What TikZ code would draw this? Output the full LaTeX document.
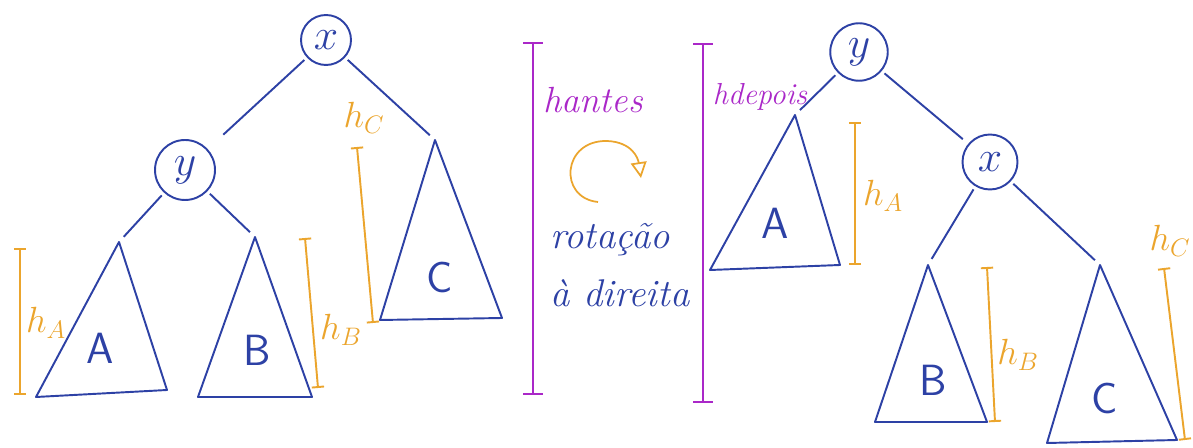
\documentclass[tikz,border=0pt]{standalone}
\usepackage{fontspec}
\usetikzlibrary{arrows.meta}
\definecolor{penblue}{RGB}{45,65,165}
\definecolor{penorange}{RGB}{235,165,45}
\definecolor{penpurple}{RGB}{170,40,200}

\begin{document}
\begin{tikzpicture}[
    x=0.02cm, y=-0.02cm,
    keynode/.style={draw=penblue, circle, line width=1.1pt, text=penblue, font=\Huge, inner sep=0pt},
    edge/.style={draw=penblue, line width=1.1pt, shorten <=2pt, shorten >=4pt},
    subtree/.style={draw=penblue, line width=1.1pt, line join=round},
    treelabel/.style={text=penblue, font=\Huge\sffamily},
    height/.style={draw=penorange, line width=1.1pt, {Bar[width=7pt]}-{Bar[width=7pt]}},
    hlabel/.style={text=penorange, font=\huge},
    total/.style={draw=penpurple, line width=1.1pt, {Bar[width=11pt]}-{Bar[width=11pt]}},
    note/.style={text=penpurple, font=\huge\itshape},
    rotnote/.style={text=penblue, font=\fontsize{22}{26}\selectfont\itshape},
    turn/.style={draw=penorange, line width=1pt, -{Triangle[open, length=9pt, width=9pt]}}
]
\useasboundingbox (0,0) rectangle (1193,448);

% Before rotation
\node[keynode, minimum size=1.0cm] (lx) at (326,40) {$x$};
\node[keynode, minimum size=1.2cm] (ly) at (185,170) {$y$};
\coordinate (lA) at (119,242);
\coordinate (lB) at (255,237);
\coordinate (lC) at (435,140);
\draw[subtree] (lA) -- (36,397) -- (167,390) -- cycle;
\draw[subtree] (lB) -- (198,397) -- (312,397) -- cycle;
\draw[subtree] (lC) -- (380,320) -- (502,318) -- cycle;
\node[treelabel] (lAname) at (100,348) {A};
\node[treelabel] (lBname) at (257,350) {B};
\node[treelabel] (lCname) at (440,277) {C};
\draw[edge, shorten >=12pt] (lx) -- (ly);
\draw[edge] (ly) -- (lA);
\draw[edge] (ly) -- (lB);
\draw[edge] (lx) -- (lC);

% heights before
\coordinate (lhAtop) at (20,248);
\coordinate (lhAbot) at (20,395);
\coordinate (lhBtop) at (305,238);
\coordinate (lhBbot) at (318,388);
\coordinate (lhCtop) at (357,147);
\coordinate (lhCbot) at (373,323);
\draw[height] (lhAtop) -- (lhAbot);
\draw[height] (lhBtop) -- (lhBbot);
\draw[height] (lhCtop) -- (lhCbot);
\node[hlabel] (lhA) at (46,323) {$h_A$};
\node[hlabel] (lhB) at (341,330) {$h_B$};
\node[hlabel] (lhC) at (364,118) {$h_C$};

% Middle
\coordinate (antestop) at (533,42);
\coordinate (antesbot) at (533,395);
\coordinate (depoistop) at (703,43);
\coordinate (depoisbot) at (703,403);
\draw[total] (antestop) -- (antesbot);
\draw[total] (depoistop) -- (depoisbot);
\node[note] (hantes) at (593,100) {hantes};
\node[note, font=\LARGE\itshape] (hdepois) at (760,97) {hdepois};
\coordinate (turnstart) at (598,202);
\coordinate (turnend) at (641,178);
\draw[turn] (turnstart) .. controls (558,198) and (562,140) .. (607,141)
    .. controls (632,142) and (638,158) .. (turnend);
\node[rotnote] (rot) at (610,240) {rotação};
\node[rotnote] (dir) at (620,293) {à direita};

% After rotation
\node[keynode, minimum size=1.15cm] (ry) at (859,52) {$y$};
\node[keynode, minimum size=1.1cm] (rx) at (990,162) {$x$};
\coordinate (rA) at (795,115);
\coordinate (rB) at (928,265);
\coordinate (rC) at (1100,265);
\draw[subtree] (rA) -- (710,270) -- (840,265) -- cycle;
\draw[subtree] (rB) -- (875,422) -- (987,422) -- cycle;
\draw[subtree] (rC) -- (1047,443) -- (1177,440) -- cycle;
\node[treelabel] (rAname) at (775,223) {A};
\node[treelabel] (rBname) at (933,380) {B};
\node[treelabel] (rCname) at (1105,398) {C};
\draw[edge] (ry) -- (rA);
\draw[edge] (ry) -- (rx);
\draw[edge] (rx) -- (rB);
\draw[edge] (rx) -- (rC);

% heights after
\coordinate (rhAtop) at (855,122);
\coordinate (rhAbot) at (855,265);
\coordinate (rhBtop) at (987,267);
\coordinate (rhBbot) at (995,422);
\coordinate (rhCtop) at (1164,268);
\coordinate (rhCbot) at (1185,440);
\draw[height] (rhAtop) -- (rhAbot);
\draw[height] (rhBtop) -- (rhBbot);
\draw[height] (rhCtop) -- (rhCbot);
\node[hlabel] (rhA) at (883,196) {$h_A$};
\node[hlabel] (rhB) at (1018,355) {$h_B$};
\node[hlabel] (rhC) at (1170,241) {$h_C$};
\end{tikzpicture}
\end{document}
